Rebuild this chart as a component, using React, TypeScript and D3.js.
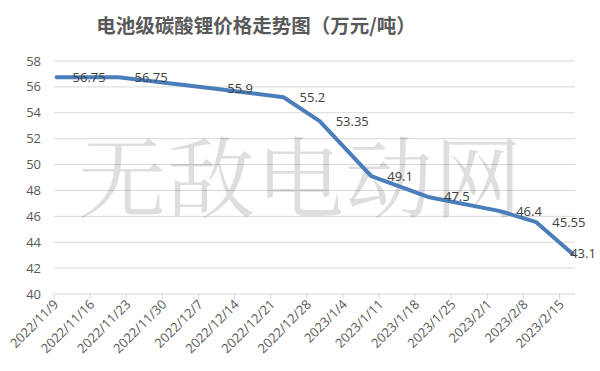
import React from "react";
import * as d3 from "d3";

const dates = ["2022/11/9", "2022/11/21", "2022/12/9", "2022/12/23", "2022/12/30", "2023/1/9", "2023/1/20", "2023/2/3", "2023/2/10", "2023/2/17"];
const prices = [56.75, 56.75, 55.9, 55.2, 53.35, 49.1, 47.5, 46.4, 45.55, 43.1];
const xTickLabels = ["2022/11/9", "2022/11/16", "2022/11/23", "2022/11/30", "2022/12/7", "2022/12/14", "2022/12/21", "2022/12/28", "2023/1/4", "2023/1/11", "2023/1/18", "2023/1/25", "2023/2/1", "2023/2/8", "2023/2/15"];
const yTicks = [40, 42, 44, 46, 48, 50, 52, 54, 56, 58];
const axisStart = "2022/11/9";
const axisEnd = "2023/2/18";
const title = "电池级碳酸锂价格走势图（万元/吨）";
const watermark = "无敌电动网";

const parse = (s: string) => {
  const [y, m, d] = s.split("/").map(Number);
  return new Date(Date.UTC(y, m - 1, d));
};

export default function App() {
  const W = 600, H = 371;
  const x = d3.scaleUtc().domain([parse(axisStart), parse(axisEnd)]).range([54, 575]);
  const y = d3.scaleLinear().domain([40, 58]).range([294, 61]);
  const halfDay = 12 * 3600 * 1000;
  const pts = dates.map((d, i) => ({ x: x(new Date(parse(d).getTime() + halfDay)), y: y(prices[i]), v: prices[i] }));
  const line = d3.line<{ x: number; y: number }>().x(d => d.x).y(d => d.y);
  const font = "'Open Sans', 'Noto Sans', sans-serif";
  const gray = "#595959";
  return (
    <svg width={W} height={H} style={{ position: "absolute", left: 0, top: 0, background: "#fff" }}>
      <rect width={W} height={H} fill="#fff" />
      <text x={256} y={33} textAnchor="middle" fontFamily="'Noto Sans CJK SC', sans-serif" fontWeight="bold" fontSize={19.5} fill={gray}>{title}</text>
      {yTicks.map(t => (
        <g key={t}>
          <line x1={54} x2={575} y1={y(t)} y2={y(t)} stroke="#d9d9d9" strokeWidth={1} />
          <text x={41} y={y(t)} dy="0.35em" textAnchor="end" fontFamily={font} fontSize={13} fill={gray}>{t}</text>
        </g>
      ))}
      {xTickLabels.map(l => {
        const tx = x(parse(l));
        return (
          <g key={l}>
            <line x1={tx} x2={tx} y1={294} y2={299} stroke="#d9d9d9" strokeWidth={1} />
            <text transform={`translate(${tx + 2},${302}) rotate(-45)`} dy="0.35em" textAnchor="end" fontFamily={font} fontSize={13} fill={gray}>{l}</text>
          </g>
        );
      })}
      <text x={78} y={210} fontFamily="'Noto Serif CJK SC', 'Noto Sans CJK SC', serif" fontSize={88} fill="#000" fillOpacity={0.13} letterSpacing={1}>{watermark}</text>
      <path d={line(pts) || ""} fill="none" stroke="#4a7ebb" strokeWidth={4} strokeLinejoin="round" strokeLinecap="round" />
      {pts.map((p, i) => {
        const label = String(p.v);
        const est = label.length * 7.2;
        const lx = Math.min(p.x + 16, W - 1 - est);
        return (
          <text key={i} x={lx} y={p.y} dy="0.35em" fontFamily={font} fontSize={13} fill="#404040">{label}</text>
        );
      })}
    </svg>
  );
}
